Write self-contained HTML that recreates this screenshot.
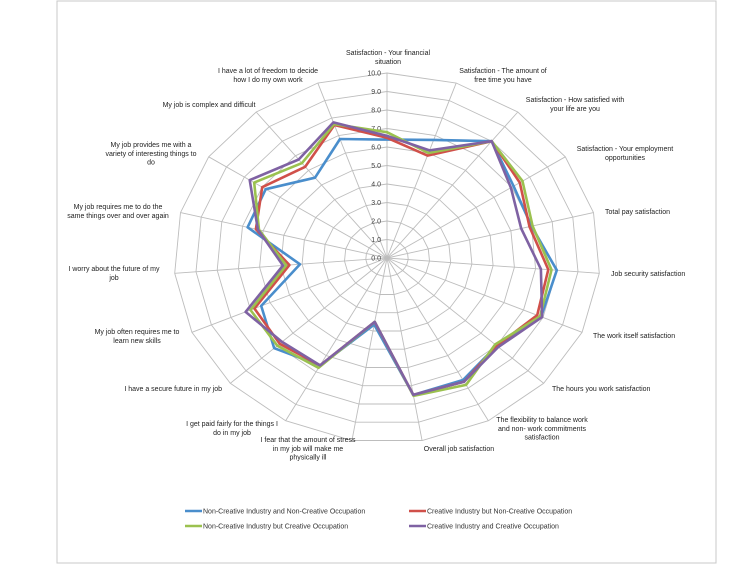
<!DOCTYPE html>
<html><head><meta charset="utf-8"><style>
html,body{margin:0;padding:0;background:#fff;}
svg{display:block;font-family:"Liberation Sans",sans-serif;}
</style></head><body>
<svg id="chart" width="754" height="565" viewBox="0 0 754 565">
<rect x="57" y="1" width="659" height="562" fill="#fff" stroke="#c8c8c8" stroke-width="1"/>
<g id="grid"></g>
<g id="ticks"></g>
<g id="cats"></g>
<g id="series"></g>
<g id="legend"></g>
</svg>
<script>
const categories = [
"Satisfaction - Your financial|situation",
"Satisfaction - The amount of|free time you have",
"Satisfaction - How satisfied with|your life are you",
"Satisfaction - Your employment|opportunities",
"Total pay satisfaction",
"Job security satisfaction",
"The work itself satisfaction",
"The hours you work satisfaction",
"The flexibility to balance work|and non- work commitments|satisfaction",
"Overall job satisfaction",
"I fear that the amount of stress|in my job will make me|physically ill",
"I get paid fairly for the things I|do in my job",
"I have a secure future in my job",
"My job often requires me to|learn new skills",
"I worry about the future of my|job",
"My job requires me to do the|same things over and over again",
"My job provides me with a|variety of interesting things to|do",
"My job is complex and difficult",
"I have a lot of freedom to decide|how I do my own work"
];
const seriesNames = [
"Non-Creative Industry and Non-Creative Occupation",
"Creative Industry but Non-Creative Occupation",
"Non-Creative Industry but Creative Occupation",
"Creative Industry and Creative Occupation"
];
const seriesBlue   = [6.4,6.75,8.0,7.1,7.0,8.0,7.9,7.0,7.5,7.5,3.65,6.6,7.2,6.45,4.1,6.75,6.8,5.5,6.8];
const seriesRed    = [6.5,5.85,8.0,7.45,6.9,7.6,7.7,7.0,7.6,7.5,3.5,6.6,6.85,6.8,4.6,6.35,7.0,6.25,7.6];
const seriesGreen  = [6.8,6.0,8.0,7.6,7.05,7.75,7.85,6.9,7.8,7.55,3.5,6.75,7.0,7.0,4.75,6.2,7.45,6.5,7.65];
const seriesPurple = [6.6,6.15,8.0,6.95,6.5,7.25,7.95,7.1,7.6,7.5,3.5,6.6,6.7,7.25,4.9,6.25,7.7,6.75,7.75];
const tickLabels = ["0.0","1.0","2.0","3.0","4.0","5.0","6.0","7.0","8.0","9.0","10.0"];
const colors = ["#4a8ecc","#d0504a","#9bc14f","#7f62a3"];
const allSeries = [seriesBlue, seriesRed, seriesGreen, seriesPurple];

const NS="http://www.w3.org/2000/svg";
const cx=387, cy=258, rx=21.3, ry=18.5, maxV=10;
const N=categories.length;
function ang(i){return i*2*Math.PI/N;}
function px(i,v){return cx+Math.sin(ang(i))*v*rx;}
function py(i,v){return cy-Math.cos(ang(i))*v*ry;}
function mk(tag,attrs,parent){const e=document.createElementNS(NS,tag);for(const k in attrs)e.setAttribute(k,attrs[k]);parent.appendChild(e);return e;}

const grid=document.getElementById('grid');
for(let t=1;t<=maxV;t++){
  let pts=[];for(let i=0;i<N;i++)pts.push(px(i,t).toFixed(1)+","+py(i,t).toFixed(1));
  const p=mk('polygon',{points:pts.join(' '),fill:'none',stroke:'#bdbdbd','stroke-width':'0.9'},grid);
  
  
}
for(let i=0;i<N;i++){
  const l=mk('line',{x1:cx,y1:cy,x2:px(i,maxV),y2:py(i,maxV),stroke:'#bdbdbd','stroke-width':'0.9'},grid);
  
  
}
const ticks=document.getElementById('ticks');
tickLabels.forEach((lab,k)=>{
  const t=mk('text',{x:cx-6,y:py(0,k)+2.5,'font-size':'7','text-anchor':'end',fill:'#404040'},ticks);
  t.textContent=lab;
  
  
});
// label layout (positions only)
const labPos=[[388,55,'middle'],[503,73,'middle'],[575,102,'middle'],[625,151,'middle'],[605,214,'start'],[611,276,'start'],[593,338,'start'],[552,391,'start'],[542,422,'middle'],[459,451,'middle'],[308,442,'middle'],[232,426,'middle'],[222,391,'end'],[137,334,'middle'],[114,271,'middle'],[118,209,'middle'],[151,147,'middle'],[209,107,'middle'],[268,73,'middle']];
const cats=document.getElementById('cats');
categories.forEach((c,i)=>{
  const [x,y,a]=labPos[i];
  const t=mk('text',{x:x,y:y,'font-size':'7','text-anchor':a,fill:'#222'},cats);
  
  
  c.split('|').forEach((ln,j)=>{const s=mk('tspan',{x:x,dy:j?8.8:0},t);s.textContent=ln;});
});
const ser=document.getElementById('series');
allSeries.forEach((vals,s)=>{
  let pts=vals.map((v,i)=>px(i,v).toFixed(1)+","+py(i,v).toFixed(1));
  const p=mk('polygon',{points:pts.join(' '),fill:'none',stroke:colors[s],'stroke-width':'2.6','stroke-linejoin':'round'},ser);
  
  
});
const leg=document.getElementById('legend');
const legPos=[[185,511],[409,511],[185,526],[409,526]];
const order=[0,1,2,3];
order.forEach((s,k)=>{
  const [x,y]=legPos[k];
  const g=mk('g',{},leg);
  
  
  mk('line',{x1:x,y1:y,x2:x+17,y2:y,stroke:colors[s],'stroke-width':'2.6'},g);
  const t=mk('text',{x:x+18,y:y+2.5,'font-size':'7',fill:'#333'},g);
  t.textContent=seriesNames[s];
});
</script>
</body></html>
